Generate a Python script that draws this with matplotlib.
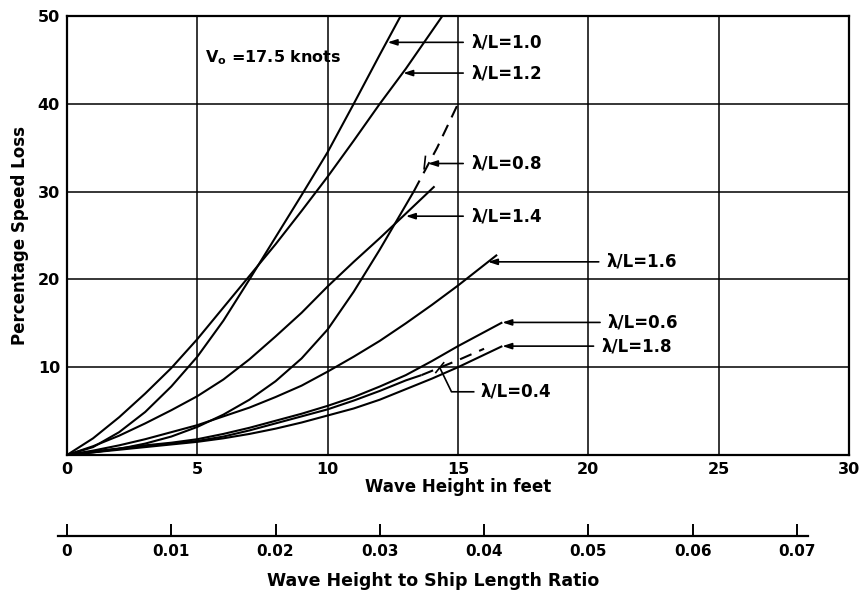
import matplotlib.pyplot as plt

plt.rcParams['font.family'] = 'DejaVu Sans'
plt.rcParams['mathtext.fontset'] = 'dejavusans'

# wave height (ft) vs. percentage speed loss, one curve per lambda/L
h_10 = [0, 1, 2, 3, 4, 5, 6, 7, 8, 9, 10, 11, 12, 12.8]
s_10 = [0, 0.9, 2.6, 4.9, 7.8, 11.2, 15.3, 20.0, 24.8, 29.6, 34.5, 40.0, 45.6, 50]

h_12 = [0, 1, 2, 3, 4, 5, 6, 7, 8, 9, 10, 11, 12, 13, 14.4]
s_12 = [0, 1.9, 4.3, 7.0, 9.9, 13.2, 16.8, 20.4, 24.0, 27.8, 31.7, 35.8, 40.0, 44.0, 50]

h_14 = [0, 1, 2, 3, 4, 5, 6, 7, 8, 9, 10, 11, 12, 13, 14.1]
s_14 = [0, 1.0, 2.2, 3.6, 5.1, 6.7, 8.6, 10.9, 13.5, 16.2, 19.2, 22.0, 24.7, 27.5, 30.6]

h_08 = [0, 1, 2, 3, 4, 5, 6, 7, 8, 9, 10, 11, 12, 13.3]
s_08 = [0, 0.3, 0.7, 1.3, 2.1, 3.2, 4.6, 6.3, 8.4, 11.0, 14.3, 18.6, 23.4, 30]
h_08_ext = [13.3, 14.2, 15.0]
s_08_ext = [30, 35, 40]

h_16 = [0, 1, 2, 3, 4, 5, 6, 7, 8, 9, 10, 11, 12, 13, 14, 15, 16.5]
s_16 = [0, 0.5, 1.1, 1.8, 2.6, 3.4, 4.4, 5.4, 6.6, 7.9, 9.5, 11.2, 13.0, 15.0, 17.1, 19.3, 22.8]

h_06 = [0, 1, 2, 3, 4, 5, 6, 7, 8, 9, 10, 11, 12, 13, 14, 15, 16.7]
s_06 = [0, 0.4, 0.75, 1.1, 1.4, 1.8, 2.4, 3.1, 3.9, 4.7, 5.6, 6.6, 7.8, 9.1, 10.7, 12.4, 15.1]

h_18 = [0, 1, 2, 3, 4, 5, 6, 7, 8, 9, 10, 11, 12, 13, 14, 15, 16.7]
s_18 = [0, 0.3, 0.6, 0.9, 1.2, 1.5, 1.9, 2.4, 3.0, 3.7, 4.5, 5.3, 6.3, 7.5, 8.7, 10.0, 12.4]

h_04 = [0, 1, 2, 3, 4, 5, 6, 7, 8, 9, 10, 11, 12, 13, 13.6]
s_04 = [0, 0.35, 0.7, 1.0, 1.3, 1.6, 2.1, 2.8, 3.6, 4.4, 5.2, 6.2, 7.3, 8.5, 9.1]
h_04_ext = [13.6, 15.0, 16.0]
s_04_ext = [9.1, 10.8, 12.1]

ship_length = 400.0
ratio_ticks = [0, 0.01, 0.02, 0.03, 0.04, 0.05, 0.06, 0.07]
ratio_labels = ['0', '0.01', '0.02', '0.03', '0.04', '0.05', '0.06', '0.07']

# (label, arrow tip x, arrow tip y, text x)
callouts = [
    ('λ/L=1.0', 12.3, 47.0, 15.5),
    ('λ/L=1.2', 12.9, 43.5, 15.5),
    ('λ/L=0.8', 13.85, 33.2, 15.5),
    ('λ/L=1.4', 13.0, 27.2, 15.5),
    ('λ/L=1.6', 16.15, 22.0, 20.7),
    ('λ/L=0.6', 16.7, 15.1, 20.75),
    ('λ/L=1.8', 16.7, 12.4, 20.5),
]

fig = plt.figure(figsize=(8.68, 5.93), dpi=100)
ax = fig.add_axes([67 / 868, 138 / 593, 782 / 868, 439 / 593])

lw = 1.5
for h, s in [(h_10, s_10), (h_12, s_12), (h_14, s_14), (h_08, s_08),
             (h_16, s_16), (h_06, s_06), (h_18, s_18), (h_04, s_04)]:
    ax.plot(h, s, color='black', lw=lw, solid_capstyle='butt')
ax.plot(h_08_ext, s_08_ext, color='black', lw=lw, ls=(0, (6, 4)))
ax.plot(h_04_ext, s_04_ext, color='black', lw=lw, ls=(0, (6, 4)))

ax.set_xlim(0, 30)
ax.set_ylim(0, 50)
ax.set_xticks(range(0, 31, 5))
ax.set_yticks(range(0, 51, 10))
ax.set_yticklabels(['', '10', '20', '30', '40', '50'])
ax.tick_params(length=0, labelsize=11.5, pad=5)
for lab in ax.get_xticklabels() + ax.get_yticklabels():
    lab.set_fontweight('bold')
ax.grid(True, color='black', lw=1.1)
for sp in ax.spines.values():
    sp.set_linewidth(1.6)

ax.set_xlabel('Wave Height in feet', fontsize=12, fontweight='bold', labelpad=1)
ax.set_ylabel('Percentage Speed Loss', fontsize=12, fontweight='bold', labelpad=6)

ax.text(5.3, 45.2, r'V$_\mathbf{o}$ =17.5 knots', fontsize=11.5,
        fontweight='bold', va='center')

arrow = dict(arrowstyle='-|>,head_length=0.55,head_width=0.18', color='black',
             lw=1.2, shrinkA=0, shrinkB=0)
for text, tx, ty, lx in callouts:
    ax.annotate('', xy=(tx, ty), xytext=(lx - 0.3, ty), arrowprops=arrow)
    ax.text(lx, ty, text, fontsize=12, fontweight='bold', va='center', ha='left')

# small bar where the 0.8 leader meets the dashed curve
ax.plot([13.7, 13.75], [32.6, 34.0], color='black', lw=1.2)

# lambda/L = 0.4 leader with its bent line
ax.plot([14.15, 14.45], [9.4, 10.5], color='black', lw=1.2)
ax.plot([14.3, 14.75, 15.6], [9.95, 7.2, 7.2], color='black', lw=1.2)
ax.text(15.85, 7.2, 'λ/L=0.4', fontsize=12, fontweight='bold', va='center', ha='left')

# second scale: wave height over ship length
lo = (58 - 67) / (782 / 30) / ship_length
hi = (808 - 67) / (782 / 30) / ship_length
ax2 = fig.add_axes([58 / 868, 57 / 593, 750 / 868, 0.01])
ax2.set_xlim(lo, hi)
ax2.patch.set_visible(False)
for side in ['top', 'left', 'right']:
    ax2.spines[side].set_visible(False)
ax2.spines['bottom'].set_linewidth(1.6)
ax2.set_yticks([])
ax2.set_xticks(ratio_ticks)
ax2.set_xticklabels(ratio_labels, fontweight='bold')
ax2.tick_params(axis='x', direction='in', length=9, width=1.4, labelsize=11, pad=6)
ax2.set_xlabel('Wave Height to Ship Length Ratio', fontsize=12.5,
               fontweight='bold', labelpad=9)

fig.savefig('out.png', dpi=100)
